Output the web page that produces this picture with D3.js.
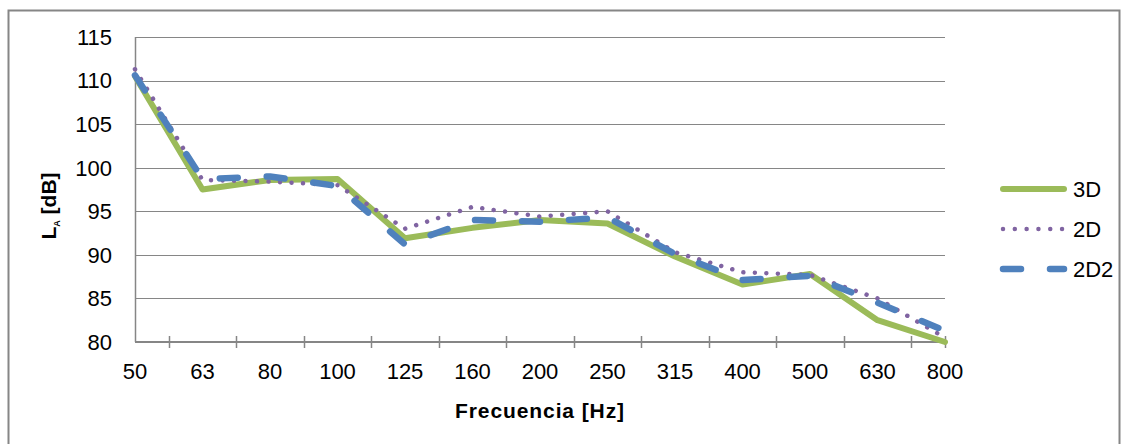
<!DOCTYPE html>
<html>
<head>
<meta charset="utf-8">
<script src="https://cdn.jsdelivr.net/npm/d3@7"></script>
<style>
  html, body { margin: 0; padding: 0; background: #fff; }
  svg { display: block; font-family: "Liberation Sans", Arial, sans-serif; }
</style>
</head>
<body>
<svg id="chart"></svg>
<script>
// 1/3 octave band centre frequencies (category labels)
const categories = ['50', '63', '80', '100', '125', '160', '200', '250', '315', '400', '500', '630', '800'];

// levels, dB
const values3D  = [110.5, 97.5, 98.6, 98.7, 91.9, 93.1, 94.0, 93.6, 89.8, 86.6, 87.8, 82.5, 80.0];
const values2D  = [111.3, 98.6, 98.4, 98.0, 93.0, 95.5, 94.4, 95.0, 90.3, 88.0, 87.7, 85.0, 80.5];
const values2D2 = [110.6, 98.7, 99.0, 97.9, 91.2, 94.0, 93.8, 94.3, 90.1, 87.1, 87.6, 84.5, 81.3];

const yTicks = [80, 85, 90, 95, 100, 105, 110, 115];

const seriesNames = ['3D', '2D', '2D2'];

const width = 1131;
const height = 444;
const margin = { top: 37, right: 186, bottom: 102, left: 135 };

const svg = d3.select('#chart')
  .attr('width', width)
  .attr('height', height);

// outer chart frame
svg.append('rect')
  .attr('x', 8.5)
  .attr('y', 10.5)
  .attr('width', 1111)
  .attr('height', 470)
  .attr('fill', 'none')
  .attr('stroke', '#868686')
  .attr('stroke-width', 2);

const x = d3.scalePoint()
  .domain(categories)
  .range([margin.left, width - margin.right]);

const y = d3.scaleLinear()
  .domain([80, 115])
  .range([height - margin.bottom, margin.top]);

const step = x.step();

// horizontal gridlines
svg.append('g')
  .selectAll('line')
  .data(yTicks.filter(d => d !== 80))
  .enter()
  .append('line')
  .attr('x1', x.range()[0])
  .attr('x2', x.range()[1])
  .attr('y1', d => Math.round(y(d)) + 0.5)
  .attr('y2', d => Math.round(y(d)) + 0.5)
  .attr('stroke', '#868686')
  .attr('stroke-width', 1);

// y axis line
svg.append('line')
  .attr('x1', margin.left + 0.5)
  .attr('x2', margin.left + 0.5)
  .attr('y1', y(115))
  .attr('y2', y(80))
  .attr('stroke', '#868686')
  .attr('stroke-width', 1.5);

// y tick labels
svg.append('g')
  .selectAll('text')
  .data(yTicks)
  .enter()
  .append('text')
  .attr('x', 112)
  .attr('y', d => y(d))
  .attr('dy', '0.36em')
  .attr('text-anchor', 'end')
  .style('font-size', '22px')
  .style('fill', '#000')
  .text(d => d);

// x axis line
svg.append('line')
  .attr('x1', x.range()[0])
  .attr('x2', x.range()[1])
  .attr('y1', y(80))
  .attr('y2', y(80))
  .attr('stroke', '#868686')
  .attr('stroke-width', 2);

// x tick marks sit between the labels (and at the right end)
const tickPos = categories.slice(0, -1).map(c => x(c) + step / 2).concat([x.range()[1]]);
svg.append('g')
  .selectAll('line')
  .data(tickPos)
  .enter()
  .append('line')
  .attr('x1', d => Math.round(d) + 0.5)
  .attr('x2', d => Math.round(d) + 0.5)
  .attr('y1', y(80) - 6)
  .attr('y2', y(80) + 6)
  .attr('stroke', '#868686')
  .attr('stroke-width', 1.5);

// x tick labels
svg.append('g')
  .selectAll('text')
  .data(categories)
  .enter()
  .append('text')
  .attr('x', d => x(d))
  .attr('y', 379)
  .attr('text-anchor', 'middle')
  .style('font-size', '22px')
  .style('fill', '#000')
  .text(d => d);

// axis titles
svg.append('text')
  .attr('x', 540)
  .attr('y', 418)
  .attr('text-anchor', 'middle')
  .style('font-size', '21px')
  .style('font-weight', 'bold')
  .style('letter-spacing', '0.9px')
  .text('Frecuencia [Hz]');

const yTitle = svg.append('text')
  .attr('transform', 'translate(56, 206) rotate(-90)')
  .attr('text-anchor', 'middle')
  .style('font-size', '21px')
  .style('font-weight', 'bold');
yTitle.append('tspan').text('L');
yTitle.append('tspan')
  .attr('dy', 4)
  .style('font-size', '9px')
  .text('A');
yTitle.append('tspan')
  .attr('dy', -4)
  .text(' [dB]');

// line styles per series
const styles = {
  '3D':  { color: '#9BBB59', width: 6, dash: null, cap: 'round' },
  '2D':  { color: '#8064A2', width: 4.5, dash: '0.01 11.5', cap: 'round' },
  '2D2': { color: '#4F81BD', width: 6.5, dash: '18 29', cap: 'round' }
};

const seriesData = {
  '3D': values3D,
  '2D': values2D,
  '2D2': values2D2
};

const line = d3.line()
  .x((d, i) => x(categories[i]))
  .y(d => y(d));

seriesNames.forEach(name => {
  const s = styles[name];
  svg.append('path')
    .datum(seriesData[name])
    .attr('d', line)
    .attr('fill', 'none')
    .attr('stroke', s.color)
    .attr('stroke-width', s.width)
    .attr('stroke-linecap', s.cap)
    .attr('stroke-linejoin', 'round')
    .attr('stroke-dasharray', s.dash);
});

// legend
const legend = svg.append('g')
  .attr('transform', 'translate(1003, 189)');

const legendItems = legend.selectAll('g')
  .data(seriesNames)
  .enter()
  .append('g')
  .attr('transform', (d, i) => `translate(0, ${i * 40})`);

legendItems.append('line')
  .attr('x1', 0)
  .attr('x2', 61)
  .attr('y1', 0)
  .attr('y2', 0)
  .attr('stroke', d => styles[d].color)
  .attr('stroke-width', d => styles[d].width)
  .attr('stroke-linecap', d => styles[d].cap)
  .attr('stroke-dasharray', d => d === '2D' ? '0.01 11.8' : styles[d].dash);

legendItems.append('text')
  .attr('x', 70)
  .attr('y', 0)
  .attr('dy', '0.36em')
  .style('font-size', '22px')
  .text(d => d);
</script>
</body>
</html>
